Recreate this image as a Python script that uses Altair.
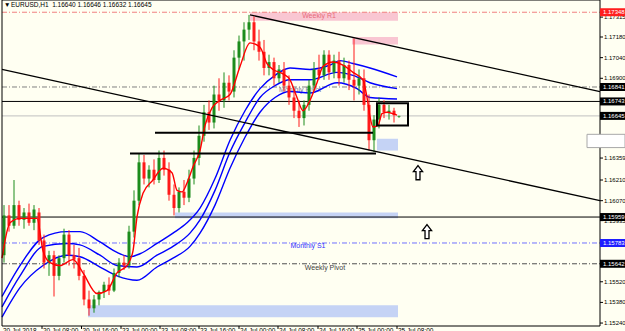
import altair as alt
import pandas as pd

FONT = "Liberation Sans"

# ---------------- candle data (EURUSD H1) ----------------
bar_open = [1.1570, 1.1597, 1.1590, 1.1604, 1.1594, 1.1599, 1.1592, 1.1599, 1.1580, 1.1565,
            1.1570, 1.1556, 1.1568, 1.1584, 1.1570, 1.1568, 1.1556, 1.1540, 1.1534, 1.1540,
            1.1545, 1.1550, 1.1546, 1.1558, 1.1565, 1.1563, 1.1586, 1.1607, 1.1633, 1.1622,
            1.1628, 1.1621, 1.1636, 1.1628, 1.1611, 1.1602, 1.1613, 1.1609, 1.1622, 1.1636,
            1.1651, 1.1667, 1.1660, 1.1679, 1.1675, 1.1687, 1.1681, 1.1704, 1.1715, 1.1723,
            1.1728, 1.1715, 1.1708, 1.1697, 1.1701, 1.1690, 1.1696, 1.1685, 1.1677, 1.1668,
            1.1663, 1.1672, 1.1685, 1.1696, 1.1692, 1.1706, 1.1694, 1.1702, 1.1690, 1.1699,
            1.1689, 1.1685, 1.1690, 1.1672, 1.1648, 1.1662, 1.1672, 1.1667, 1.1668, 1.16640]
bar_high = [1.1604, 1.1604, 1.1621, 1.1607, 1.1602, 1.1605, 1.1604, 1.1602, 1.1584, 1.1573,
            1.1573, 1.1570, 1.1588, 1.1587, 1.1577, 1.1575, 1.1560, 1.1546, 1.1543, 1.1546,
            1.1552, 1.1555, 1.1561, 1.1568, 1.1570, 1.1590, 1.1614, 1.1639, 1.1638, 1.1631,
            1.1635, 1.1641, 1.1641, 1.1633, 1.1618, 1.1616, 1.1621, 1.1628, 1.1641, 1.1658,
            1.1672, 1.1675, 1.1685, 1.1690, 1.1694, 1.1692, 1.1709, 1.1719, 1.1728, 1.1733,
            1.1732, 1.1723, 1.1716, 1.1706, 1.1704, 1.1699, 1.1701, 1.1692, 1.1683, 1.1675,
            1.1675, 1.1689, 1.1701, 1.1706, 1.1709, 1.1709, 1.1706, 1.1708, 1.1704, 1.1702,
            1.1717, 1.1696, 1.1696, 1.1679, 1.1665, 1.1677, 1.1675, 1.1672, 1.1670, 1.16646]
bar_low = [1.1565, 1.1586, 1.1588, 1.1590, 1.1588, 1.1590, 1.1587, 1.1577, 1.1561, 1.1556,
           1.1542, 1.1553, 1.1565, 1.1563, 1.1561, 1.1553, 1.1536, 1.1529, 1.1531, 1.1536,
           1.1541, 1.1543, 1.1545, 1.1555, 1.1560, 1.1561, 1.1582, 1.1604, 1.1618, 1.1616,
           1.1618, 1.1619, 1.1624, 1.1607, 1.1597, 1.1599, 1.1604, 1.1606, 1.1618, 1.1631,
           1.1647, 1.1655, 1.1656, 1.1668, 1.1670, 1.1675, 1.1677, 1.1696, 1.1702, 1.1716,
           1.1709, 1.1702, 1.1692, 1.1692, 1.1685, 1.1687, 1.1681, 1.1672, 1.1663, 1.1657,
           1.1658, 1.1668, 1.1682, 1.1689, 1.1689, 1.1689, 1.1690, 1.1685, 1.1687, 1.1682,
           1.1675, 1.1679, 1.1668, 1.1641, 1.1640, 1.1656, 1.1663, 1.1662, 1.1660, 1.16632]
bar_close = [1.1597, 1.1590, 1.1604, 1.1594, 1.1599, 1.1592, 1.1601, 1.1580, 1.1565, 1.1570,
             1.1556, 1.1568, 1.1584, 1.1570, 1.1567, 1.1556, 1.1540, 1.1534, 1.1540, 1.1545,
             1.1550, 1.1546, 1.1558, 1.1565, 1.1563, 1.1586, 1.1607, 1.1633, 1.1622, 1.1628,
             1.1621, 1.1636, 1.1628, 1.1611, 1.1602, 1.1613, 1.1609, 1.1622, 1.1636, 1.1651,
             1.1667, 1.1660, 1.1679, 1.1675, 1.1687, 1.1681, 1.1704, 1.1715, 1.1723, 1.1728,
             1.1715, 1.1708, 1.1697, 1.1701, 1.1690, 1.1696, 1.1685, 1.1677, 1.1668, 1.1663,
             1.1672, 1.1685, 1.1696, 1.1692, 1.1706, 1.1694, 1.1702, 1.1690, 1.1699, 1.1689,
             1.1685, 1.1690, 1.1672, 1.1648, 1.1662, 1.1672, 1.1667, 1.1668, 1.1665, 1.16645]

# ---------------- indicator lines (bar index, price) ----------------
red_ma_x = [-0.4, 1.2, 3.2, 6.6, 7.8, 9.2, 11.2, 13.8, 15.8, 18.6, 20.6, 22.6, 24.6, 25.8, 26.6,
            27.8, 29.8, 31.8, 33.6, 34.6, 35.6, 36.6, 37.8, 39.2, 40.2, 41.6, 43.2, 45.2, 47.2,
            49.2, 51.2, 52.6, 53.8, 55.8, 57.2, 58.6, 59.8, 61.2, 62.6, 63.8, 65.8, 67.8, 69.8,
            71.8, 72.6, 73.2, 73.8, 74.8, 75.6, 76.6, 77.8, 78.6]
red_ma_p = [1.1568, 1.1592, 1.1595, 1.1595, 1.1573, 1.1565, 1.1563, 1.1567, 1.1558, 1.1544,
            1.1546, 1.1558, 1.1563, 1.1573, 1.1596, 1.1612, 1.1621, 1.1629, 1.1626, 1.1614,
            1.1613, 1.1619, 1.1630, 1.1641, 1.1658, 1.1670, 1.1675, 1.1679, 1.1698, 1.1714,
            1.1711, 1.1700, 1.1696, 1.1693, 1.1689, 1.1677, 1.1668, 1.1675, 1.1687, 1.1698,
            1.1701, 1.1699, 1.1694, 1.1689, 1.1677, 1.1664, 1.1657, 1.1658, 1.1666, 1.1667,
            1.1666, 1.1665]

blue_up_x = [-0.4, 3.2, 7.8, 12.6, 15.2, 19.2, 22.6, 25.2, 27.2, 30.6, 33.8, 36.6, 39.2, 42.2,
             45.2, 48.2, 51.2, 54.2, 57.2, 61.2, 65.2, 67.2, 69.8, 73.2, 78.6]
blue_up_p = [1.1542, 1.1563, 1.1582, 1.1586, 1.1586, 1.1579, 1.1572, 1.1569, 1.1571, 1.1578,
             1.1585, 1.1592, 1.1602, 1.1622, 1.1648, 1.1668, 1.1683, 1.1692, 1.1697, 1.1696,
             1.1699, 1.1702, 1.1700, 1.1697, 1.1691]
blue_mid_x = [-0.4, 3.2, 7.8, 12.6, 15.2, 19.2, 22.6, 26.6, 30.6, 33.8, 37.2, 39.2, 42.2, 45.2,
              48.2, 51.2, 54.2, 57.2, 61.2, 66.6, 69.8, 73.2, 78.6]
blue_mid_p = [1.1535, 1.1556, 1.1576, 1.1578, 1.1577, 1.1570, 1.1563, 1.1562, 1.1570, 1.1576,
              1.1585, 1.1594, 1.1614, 1.1640, 1.1660, 1.1677, 1.1685, 1.1689, 1.1689, 1.1694,
              1.1692, 1.1687, 1.1683]
blue_lo_x = [-0.4, 3.2, 7.8, 12.6, 15.2, 19.2, 22.6, 26.6, 30.6, 33.8, 37.2, 39.2, 42.2, 45.2,
             48.2, 51.2, 54.2, 57.2, 61.2, 66.6, 70.6, 73.2, 78.6]
blue_lo_p = [1.1528, 1.1548, 1.1563, 1.1570, 1.1569, 1.1562, 1.1556, 1.1553, 1.1562, 1.1568,
             1.1576, 1.1585, 1.1604, 1.1629, 1.1650, 1.1667, 1.1677, 1.1681, 1.1680, 1.1687,
             1.1683, 1.1677, 1.1676]

# ---------------- horizontal price levels ----------------
level_price = [1.17348, 1.16841, 1.16743, 1.16645, 1.15959, 1.15783, 1.15642]
level_color = ["#F08080", "#808080", "#000000", "#C0C0C0", "#000000", "#6F6FFF", "#505050"]
level_dashed = [True, True, False, False, False, True, True]
level_tag_bg = ["#FF1E1E", "#000000", "#000000", "#000000", "#000000", "#1E1EFF", "#000000"]

level_text = ["Weekly R1", "Monthly Pivot", "Monthly S1", "Weekly Pivot"]
level_text_x = [63.0, 59.2, 60.8, 64.2]
level_text_p = [1.1732, 1.1682, 1.1576, 1.1561]
level_text_color = ["#E86A7A", "#7A7A9A", "#3030FF", "#404040"]

# ---------------- zones ----------------
zone_x1 = [49.2, 69.6, 74.6, 34.2, 16.8]
zone_x2 = [78.8, 78.8, 78.8, 78.8, 78.8]
zone_p1 = [1.17348, 1.1718, 1.1649, 1.1599, 1.1536]
zone_p2 = [1.1729, 1.1713, 1.1641, 1.1595, 1.1528]
zone_fill = ["#F9C6D2", "#F9C6D2", "#C5D3F5", "#C5D3F5", "#C5D3F5"]

# ---------------- drawn objects ----------------
trend_x1 = [-0.4, 49.2]
trend_p1 = [1.1696, 1.1733]
trend_x2 = [119.2, 119.2]
trend_p2 = [1.1607, 1.1681]

seg_x1 = [30.2, 25.2]
seg_x2 = [73.8, 74.4]
seg_p = [1.1653, 1.1639]

frame_x1 = [74.6]
frame_x2 = [80.8]
frame_p1 = [1.1673]
frame_p2 = [1.1658]

arrow_x = [82.8, 84.6]
arrow_p = [1.1626, 1.1586]

blank_x1 = [116.6]
blank_p1 = [1.1652]
blank_p2 = [1.1643]

# ---------------- header & axes ----------------
header_text = ["\u25bc", "EURUSD,H1\u00a0\u00a01.16640 1.16646 1.16632 1.16645"]
header_x = [0.0, 1.4]
header_p = [1.17398, 1.17398]

price_ticks = [1.17315, 1.17180, 1.17040, 1.16900, 1.16359, 1.16210, 1.16070,
               1.15935, 1.15520, 1.15380, 1.15240]
time_ticks = [7.6, 15.5, 23.4, 31.2, 39.0, 47.0, 54.8, 62.8, 70.6, 78.6]
time_label_x = [-0.4] + time_ticks
time_labels = ["20 Jul 2018", "20 Jul 08:00", "20 Jul 16:00", "23 Jul 00:00", "23 Jul 08:00",
               "23 Jul 16:00", "24 Jul 00:00", "24 Jul 08:00", "24 Jul 16:00", "25 Jul 00:00",
               "25 Jul 08:00"]

# canvas = whole picture; plot frame inside it (axes drawn as marks)
CANVAS_X = (-0.8, 124.2)
CANVAS_P = (1.151861, 1.17431)
PLOT_L, PLOT_R = -0.4, 119.2
PLOT_BOTTOM, PLOT_TOP = 1.15220, 1.17431
TICK_X = 0.6          # 3 px in bar units
TICK_P = 0.000203     # 3 px in price units

# ---------------- build ----------------
XS = alt.Scale(domain=list(CANVAS_X), nice=False, zero=False, padding=0)
YS = alt.Scale(domain=list(CANVAS_P), nice=False, zero=False, padding=0)


def X(f):
    return alt.X(f, type="quantitative", scale=XS, axis=None)


def Y(f):
    return alt.Y(f, type="quantitative", scale=YS, axis=None)


bars = pd.DataFrame({"i": list(range(len(bar_open))), "o": bar_open, "h": bar_high,
                     "l": bar_low, "c": bar_close})
up = alt.condition("datum.c >= datum.o", alt.value("#1C8C1C"), alt.value("#FF1A1A"))

zones = pd.DataFrame({"x1": zone_x1, "x2": zone_x2, "p1": zone_p1, "p2": zone_p2, "f": zone_fill})
zone_layer = alt.Chart(zones).mark_rect().encode(
    x=X("x1"), x2="x2", y=Y("p1"), y2="p2", color=alt.Color("f:N", scale=None))

levels = pd.DataFrame({"p": level_price, "col": level_color, "dashed": level_dashed,
                       "bg": level_tag_bg, "x1": PLOT_L, "x2": PLOT_R,
                       "t2": CANVAS_X[1], "lab": [f"{v:.5f}" for v in level_price]})
lev_solid = alt.Chart(levels[~levels["dashed"]]).mark_rule(strokeWidth=1).encode(
    x=X("x1"), x2="x2", y=Y("p"), color=alt.Color("col:N", scale=None))
lev_dash = alt.Chart(levels[levels["dashed"]]).mark_rule(strokeWidth=1, strokeDash=[5, 2, 1, 2]).encode(
    x=X("x1"), x2="x2", y=Y("p"), color=alt.Color("col:N", scale=None))

texts = pd.DataFrame({"t": level_text, "x": level_text_x, "p": level_text_p, "col": level_text_color})
text_layer = alt.Chart(texts).mark_text(font=FONT, fontSize=7, baseline="middle").encode(
    x=X("x"), y=Y("p"), text="t:N", color=alt.Color("col:N", scale=None))

bands = pd.concat([
    pd.DataFrame({"x": blue_up_x, "p": blue_up_p, "b": "up"}),
    pd.DataFrame({"x": blue_mid_x, "p": blue_mid_p, "b": "mid"}),
    pd.DataFrame({"x": blue_lo_x, "p": blue_lo_p, "b": "lo"}),
])
band_layer = alt.Chart(bands).mark_line(color="#0000FF", strokeWidth=1.4, interpolate="monotone").encode(
    x=X("x"), y=Y("p"), detail="b:N")

wick = alt.Chart(bars).mark_rule(strokeWidth=1).encode(x=X("i"), y=Y("l"), y2="h", color=up)
body = alt.Chart(bars).mark_bar(size=3).encode(x=X("i"), y=Y("o"), y2="c", color=up)

red = pd.DataFrame({"x": red_ma_x, "p": red_ma_p})
red_layer = alt.Chart(red).mark_line(color="#FF0000", strokeWidth=1.4, interpolate="monotone").encode(
    x=X("x"), y=Y("p"))

trends = pd.DataFrame({"x1": trend_x1, "p1": trend_p1, "x2": trend_x2, "p2": trend_p2})
trend_layer = alt.Chart(trends).mark_rule(color="black", strokeWidth=1.3).encode(
    x=X("x1"), x2="x2", y=Y("p1"), y2="p2")

segs = pd.DataFrame({"x1": seg_x1, "x2": seg_x2, "p": seg_p})
seg_layer = alt.Chart(segs).mark_rule(color="black", strokeWidth=2).encode(
    x=X("x1"), x2="x2", y=Y("p"))

frames = pd.DataFrame({"x1": frame_x1, "x2": frame_x2, "p1": frame_p1, "p2": frame_p2})
frame_layer = alt.Chart(frames).mark_rect(filled=False, stroke="black", strokeWidth=2).encode(
    x=X("x1"), x2="x2", y=Y("p1"), y2="p2")

ARROW = "M0,-1 L0.65,-0.15 L0.28,-0.15 L0.28,1 L-0.28,1 L-0.28,-0.15 L-0.65,-0.15 Z"
arrows = pd.DataFrame({"x": arrow_x, "p": arrow_p})
arrow_layer = alt.Chart(arrows).mark_point(shape=ARROW, size=200, filled=True, fill="white",
                                            stroke="black", strokeWidth=1.3, opacity=1).encode(
    x=X("x"), y=Y("p"))

# plot frame
plot_box = pd.DataFrame({"x1": [PLOT_L], "x2": [PLOT_R], "p1": [PLOT_BOTTOM], "p2": [PLOT_TOP]})
box_layer = alt.Chart(plot_box).mark_rect(filled=False, stroke="black", strokeWidth=1).encode(
    x=X("x1"), x2="x2", y=Y("p1"), y2="p2")

# price axis (right)
pt = pd.DataFrame({"p": price_ticks, "x1": PLOT_R, "x2": PLOT_R + TICK_X,
                   "lab": [f"{v:.5f}" for v in price_ticks]})
ptick_layer = alt.Chart(pt).mark_rule(color="black", strokeWidth=1).encode(
    x=X("x1"), x2="x2", y=Y("p"))
plab_layer = alt.Chart(pt).mark_text(font=FONT, fontSize=6, align="left", baseline="middle",
                                     dx=4, color="black").encode(x=X("x1"), y=Y("p"), text="lab:N")

# time axis (bottom)
tt = pd.DataFrame({"x": time_ticks, "p1": PLOT_BOTTOM, "p2": PLOT_BOTTOM - TICK_P})
ttick_layer = alt.Chart(tt).mark_rule(color="black", strokeWidth=1).encode(
    x=X("x"), y=Y("p1"), y2="p2")
tl = pd.DataFrame({"x": time_label_x, "t": time_labels, "p": PLOT_BOTTOM})
time_layer = alt.Chart(tl).mark_text(font=FONT, fontSize=6.5, align="left", baseline="top",
                                     dx=1, dy=2, color="black", clip=True).encode(
    x=X("x"), y=Y("p"), text="t:N")

# price tags on the axis
tag_bar = alt.Chart(levels).mark_bar(size=8).encode(
    x=X("x2"), x2="t2", y=Y("p"), color=alt.Color("bg:N", scale=None))
tag_text = alt.Chart(levels).mark_text(font=FONT, fontSize=6, align="left", baseline="middle",
                                       dx=3, color="white").encode(x=X("x2"), y=Y("p"), text="lab:N")

blank = pd.DataFrame({"x1": blank_x1, "x2": [CANVAS_X[1]], "p1": blank_p1, "p2": blank_p2})
blank_layer = alt.Chart(blank).mark_rect(fill="white", stroke="#A8A8A8", strokeWidth=1).encode(
    x=X("x1"), x2="x2", y=Y("p1"), y2="p2")

hdr = pd.DataFrame({"t": header_text, "x": header_x, "p": header_p})
header_layer = alt.Chart(hdr).mark_text(font=FONT, fontSize=6.5, align="left", baseline="middle",
                                        color="black").encode(x=X("x"), y=Y("p"), text="t:N")

chart = alt.layer(
    zone_layer, lev_solid, lev_dash, text_layer, band_layer, wick, body, red_layer,
    trend_layer, seg_layer, frame_layer, arrow_layer, box_layer, ptick_layer, plab_layer,
    ttick_layer, time_layer, blank_layer, tag_bar, tag_text, header_layer
).properties(
    width=625, height=331,
    autosize=alt.AutoSizeParams(type="none"),
    padding=0,
).configure(background="#FFFFF2").configure_view(stroke=None, fill="#FFFFF2")

chart.save("out.html", embed_options={"renderer": "svg", "actions": False})
